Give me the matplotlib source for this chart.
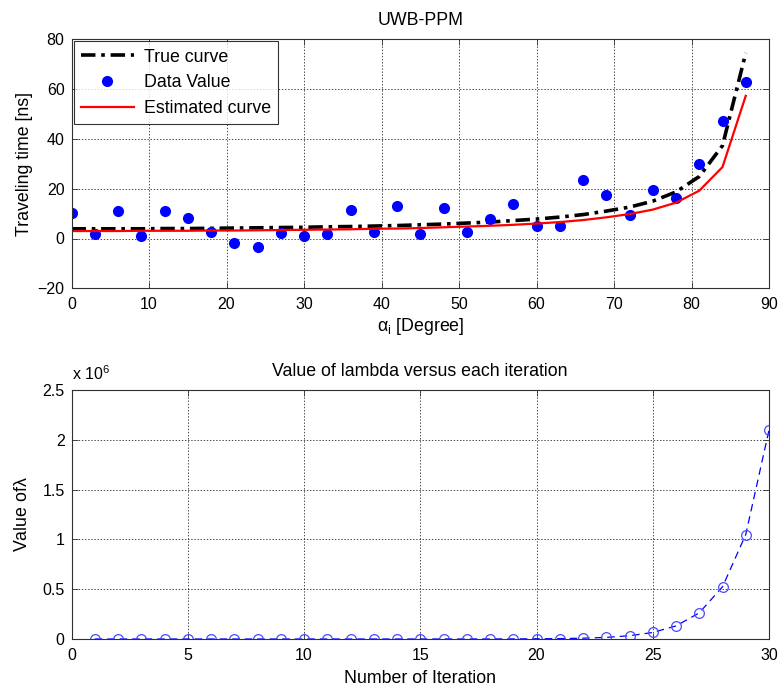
import matplotlib
matplotlib.use("Agg")
import matplotlib.pyplot as plt
from matplotlib.ticker import FuncFormatter

plt.rcParams['font.family'] = ['Liberation Sans', 'DejaVu Sans']
plt.rcParams['mathtext.fontset'] = 'custom'
plt.rcParams['mathtext.rm'] = 'Liberation Sans'
plt.rcParams['mathtext.it'] = 'Liberation Sans:italic'

# ---- top panel data ----
angles = [0, 3, 6, 9, 12, 15, 18, 21, 24, 27, 30, 33, 36, 39, 42, 45, 48, 51, 54, 57,
          60, 63, 66, 69, 72, 75, 78, 81, 84, 87]
data_values = [10.1, 1.7, 11.0, 1.1, 11.0, 8.1, 2.6, -2.0, -3.3, 2.1, 1.2, 1.9, 11.4, 2.6,
               13.2, 1.7, 12.3, 2.8, 7.7, 13.8, 4.9, 5.2, 23.3, 17.4, 9.5, 19.6, 16.2,
               29.8, 47.2, 63.0]
true_curve = [3.9, 3.9, 3.9, 3.9, 4.0, 4.0, 4.1, 4.2, 4.3, 4.4, 4.5, 4.7, 4.8, 5.0, 5.2,
              5.5, 5.8, 6.2, 6.6, 7.2, 7.8, 8.6, 9.6, 11.0, 12.6, 15.0, 18.7, 24.9, 37.3, 74.5]
est_curve = [3.0, 3.0, 3.0, 3.1, 3.1, 3.1, 3.2, 3.2, 3.3, 3.4, 3.5, 3.6, 3.7, 3.9, 4.0,
             4.2, 4.5, 4.8, 5.1, 5.5, 6.0, 6.6, 7.4, 8.5, 9.8, 11.6, 14.4, 19.2, 28.7, 57.3]

# ---- bottom panel data ----
iterations = list(range(1, 31))
lambda_values = [0.0039, 0.0078, 0.0156, 0.03125, 0.0625, 0.125, 0.25, 0.5, 1, 2, 4, 8,
                 16, 32, 64, 128, 256, 512, 1024, 2048, 4096, 8192, 16384, 32768, 65536,
                 131072, 262144, 524288, 1048576, 2097152]

xticks_top = [0, 10, 20, 30, 40, 50, 60, 70, 80, 90]
yticks_top = [-20, 0, 20, 40, 60, 80]
xticks_bot = [0, 5, 10, 15, 20, 25, 30]
yticks_bot = [0, 0.5e6, 1.0e6, 1.5e6, 2.0e6, 2.5e6]

W, H = 779, 689
fig = plt.figure(figsize=(W / 100, H / 100), dpi=100)

axL = 71.5 / W
axW = (769 - 71.5) / W
ax1 = fig.add_axes([axL, 1 - 288.3 / H, axW, (288.3 - 39.3) / H])
ax2 = fig.add_axes([axL, 1 - 639 / H, axW, (639 - 390) / H])

TFS = 11.5   # tick labels
FS = 12.8    # titles, labels, legend
spine_c = '#303030'
for ax in (ax1, ax2):
    for s in ax.spines.values():
        s.set_color(spine_c)
        s.set_linewidth(0.8)
    ax.tick_params(direction='in', top=True, right=True, labelsize=TFS, length=4,
                   width=0.6, colors=spine_c, labelcolor='black')
    ax.tick_params(axis='x', pad=6.5)
    ax.tick_params(axis='y', pad=5)
    ax.grid(True, color='black', linestyle=(0, (2, 2.5)), linewidth=0.5)
    ax.set_axisbelow(True)

# top
ax1.plot(angles, true_curve, color='black', linewidth=2.6,
         linestyle=(0, (4, 1.6, 1, 1.6)), label='True curve')
ax1.plot(angles, data_values, 'o', color='#0000ff', markersize=7, label='Data Value')
ax1.plot(angles, est_curve, color='red', linewidth=1.6, label='Estimated curve')
ax1.set_xlim(0, 90)
ax1.set_ylim(-20, 80)
ax1.set_xticks(xticks_top)
ax1.set_yticks(yticks_top)
ax1.set_title('UWB-PPM', fontsize=FS, pad=10)
ax1.set_xlabel(r'$\mathregular{\alpha_i}$ [Degree]', fontsize=FS, labelpad=3)
ax1.set_ylabel('Traveling time [ns]', fontsize=FS, labelpad=3)
leg = ax1.legend(loc='upper left', fontsize=FS, frameon=True, fancybox=False,
                 edgecolor='black', handlelength=3.0, handletextpad=0.55,
                 labelspacing=0.5, borderpad=0.4, borderaxespad=0.12)
leg.get_frame().set_linewidth(0.8)

# bottom
ax2.plot(iterations, lambda_values, color='#0000ff', linestyle=(0, (6, 4)), linewidth=0.9,
         marker='o', markersize=7, markerfacecolor='none', markeredgecolor='#4a4aff',
         markeredgewidth=0.9)
ax2.set_xlim(0, 30)
ax2.set_ylim(0, 2.5e6)
ax2.set_xticks(xticks_bot)
ax2.set_yticks(yticks_bot)
ax2.yaxis.set_major_formatter(FuncFormatter(lambda v, p: f'{v / 1e6:g}'))
ax2.set_title('Value of lambda versus each iteration', fontsize=FS, pad=10)
ax2.set_xlabel('Number of Iteration', fontsize=FS, labelpad=5)
ax2.set_ylabel('Value of$\\mathregular{\\lambda}$', fontsize=FS, labelpad=8)
ax2.text(0.0, 1.03, r'x 10$^{6}$', transform=ax2.transAxes, fontsize=TFS,
         ha='left', va='bottom')

fig.savefig('out.png', dpi=100)
